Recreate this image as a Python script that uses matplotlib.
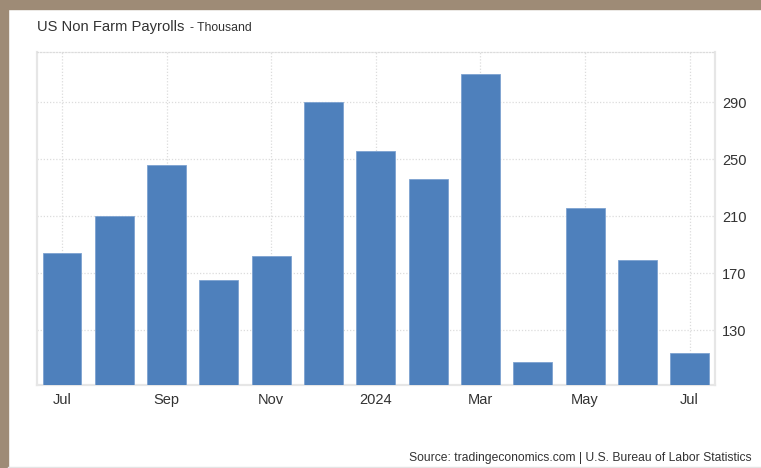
import matplotlib.pyplot as plt
import numpy as np

plt.rcParams['font.family'] = ['Liberation Sans', 'DejaVu Sans']

months = ['Jul', 'Aug', 'Sep', 'Oct', 'Nov', 'Dec', 'Jan', 'Feb', 'Mar', 'Apr', 'May', 'Jun', 'Jul']
payrolls = [184, 210, 246, 165, 182, 290, 256, 236, 310, 108, 216, 179, 114]
tick_idx = [0, 2, 4, 6, 8, 10, 12]
tick_labels = ['Jul', 'Sep', 'Nov', '2024', 'Mar', 'May', 'Jul']
y_ticks = [130, 170, 210, 250, 290]

bar_color = '#4e80bc'
grid_color = '#dcdcdc'
spine_color = '#e6e6e6'
text_color = '#333333'

fig = plt.figure(figsize=(7.61, 4.68), dpi=100)
fig.patch.set_facecolor('white')

# frame around the card
fig.patches.append(plt.Rectangle((0, 1 - 9 / 468), 1, 9 / 468, transform=fig.transFigure,
                                 color='#9e8b76', zorder=0))
fig.patches.append(plt.Rectangle((0, 0), 8 / 761, 1, transform=fig.transFigure,
                                 color='#9e8b76', zorder=0))
fig.lines.append(plt.Line2D([8 / 761, 1], [1.5 / 468, 1.5 / 468], transform=fig.transFigure,
                            color='#e4e4e4', lw=1))

ax = fig.add_axes([37 / 761, 1 - 385 / 468, (715 - 37) / 761, (385 - 51.7) / 468])
x = np.arange(len(months))
ax.bar(x, payrolls, width=0.745, color=bar_color, edgecolor='#7da2d0', linewidth=0.6, zorder=3)

ax.set_xlim(-0.478, 12.484)
ax.set_ylim(91.6, 325.5)

ax.set_xticks(tick_idx)
ax.set_xticklabels(tick_labels)
ax.set_yticks(y_ticks)
ax.yaxis.tick_right()
ax.tick_params(axis='x', length=0, pad=6, labelsize=10.5, labelcolor=text_color)
ax.tick_params(axis='y', length=0, pad=5, labelsize=10.5, labelcolor=text_color)

ax.grid(True, linestyle=(0, (1, 1.5)), color=grid_color, linewidth=0.9, zorder=0)

for side in ['left', 'right', 'bottom']:
    ax.spines[side].set_color(spine_color)
    ax.spines[side].set_linewidth(1.6)
ax.spines['top'].set_linestyle((0, (1, 1.5)))
ax.spines['top'].set_color(grid_color)
ax.spines['top'].set_linewidth(0.9)

fig.text(37 / 761, 1 - 31 / 468, 'US Non Farm Payrolls', fontsize=10.6, color=text_color)
fig.text(190 / 761, 1 - 31 / 468, '- Thousand', fontsize=8.8, color=text_color)
fig.text(752 / 761, 1 - 461 / 468, 'Source: tradingeconomics.com | U.S. Bureau of Labor Statistics',
         fontsize=8.7, color=text_color, ha='right')

fig.savefig('out.png', dpi=100)
